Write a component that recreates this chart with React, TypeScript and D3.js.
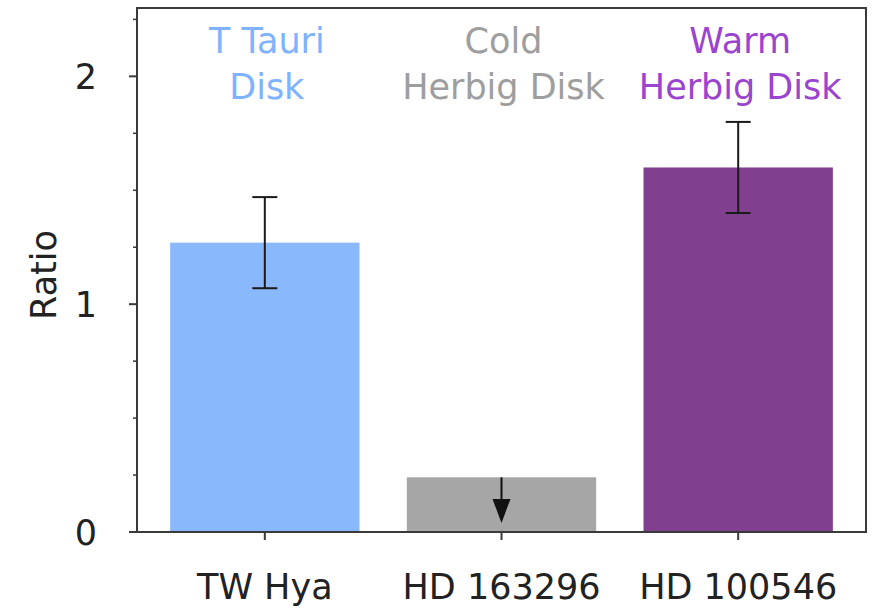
import React from 'react';
import * as d3 from 'd3';

const SOURCES = ['TW Hya', 'HD 163296', 'HD 100546'];
const RATIOS = [1.27, 0.24, 1.6];
const ERRORS = [0.2, 0, 0.2];
const UPPER_LIMIT = [false, true, false];
const DISK_LABELS = [['T Tauri', 'Disk'], ['Cold', 'Herbig Disk'], ['Warm', 'Herbig Disk']];
const BAR_COLORS = ['#8ab8fd', '#a6a6a6', '#80408f'];
const LABEL_COLORS = ['#7fb2ff', '#9e9e9e', '#9a44cf'];
const MAJOR_TICKS = [0, 1, 2];
const MINOR_TICKS = [0.25, 0.5, 0.75, 1.25, 1.5, 1.75, 2.25];

const W = 875;
const H = 611;
const M = { left: 137, right: 866, top: 8, bottom: 532 };
const FONT = "'DejaVu Sans', sans-serif";
const FS = 35;

export default function App() {
  const x = d3.scaleLinear().domain([-0.54, 2.54]).range([M.left, M.right]);
  const y = d3.scaleLinear().domain([0, 2.3]).range([M.bottom, M.top]);
  const barW = x(0.8) - x(0);
  const capW = 25;
  const axis = '#3a3a3a';

  return (
    <svg width={W} height={H} style={{ position: 'absolute', left: 0, top: 0 }} fontFamily={FONT}>
      <rect width={W} height={H} fill="#fff" />
      {/* bars */}
      {RATIOS.map((v, i) => (
        <rect key={'b' + i} x={x(i) - barW / 2} y={y(v)} width={barW} height={y(0) - y(v)} fill={BAR_COLORS[i]} />
      ))}
      {/* error bars, arrow for the upper limit */}
      {RATIOS.map((v, i) => {
        if (UPPER_LIMIT[i]) {
          const y0 = y(v);
          const y1 = y(0.04);
          return (
            <g key={'e' + i}>
              <line x1={x(i)} x2={x(i)} y1={y0} y2={y1 - 18} stroke="#111" strokeWidth={2} />
              <path d={`M${x(i) - 9},${y1 - 24}L${x(i) + 9},${y1 - 24}L${x(i)},${y1}Z`} fill="#111" />
            </g>
          );
        }
        const lo = y(v - ERRORS[i]);
        const hi = y(v + ERRORS[i]);
        return (
          <g key={'e' + i} stroke="#1a1a1a" strokeWidth={2}>
            <line x1={x(i)} x2={x(i)} y1={lo} y2={hi} />
            <line x1={x(i) - capW / 2} x2={x(i) + capW / 2} y1={lo} y2={lo} />
            <line x1={x(i) - capW / 2} x2={x(i) + capW / 2} y1={hi} y2={hi} />
          </g>
        );
      })}
      {/* disk labels */}
      {DISK_LABELS.map((lines, i) => (
        <text key={'l' + i} x={x(i) + 2} y={53} textAnchor="middle" fontSize={FS} fill={LABEL_COLORS[i]}>
          {lines.map((t, j) => (
            <tspan key={j} x={x(i) + 2} dy={j === 0 ? 0 : 46}>{t}</tspan>
          ))}
        </text>
      ))}
      {/* frame */}
      <rect x={M.left} y={M.top} width={M.right - M.left} height={M.bottom - M.top} fill="none" stroke={axis} strokeWidth={2} />
      {/* y ticks */}
      {MAJOR_TICKS.map((t) => (
        <g key={'y' + t}>
          <line x1={M.left - 8} x2={M.left} y1={y(t)} y2={y(t)} stroke={axis} strokeWidth={2} />
          <text x={M.left - 40} y={y(t)} dy="0.36em" textAnchor="end" fontSize={FS} fill="#222">{t}</text>
        </g>
      ))}
      {MINOR_TICKS.map((t) => (
        <line key={'m' + t} x1={M.left - 4} x2={M.left} y1={y(t)} y2={y(t)} stroke={axis} strokeWidth={1.5} />
      ))}
      <text transform={`translate(56,${(M.top + M.bottom) / 2 + 5}) rotate(-90)`} textAnchor="middle" fontSize={FS} fill="#222">Ratio</text>
      {/* x ticks */}
      {SOURCES.map((s, i) => (
        <g key={'x' + i}>
          <line x1={x(i)} x2={x(i)} y1={M.bottom} y2={M.bottom + 8} stroke={axis} strokeWidth={2} />
          <text x={x(i)} y={599} textAnchor="middle" fontSize={FS} fill="#222">{s}</text>
        </g>
      ))}
    </svg>
  );
}
